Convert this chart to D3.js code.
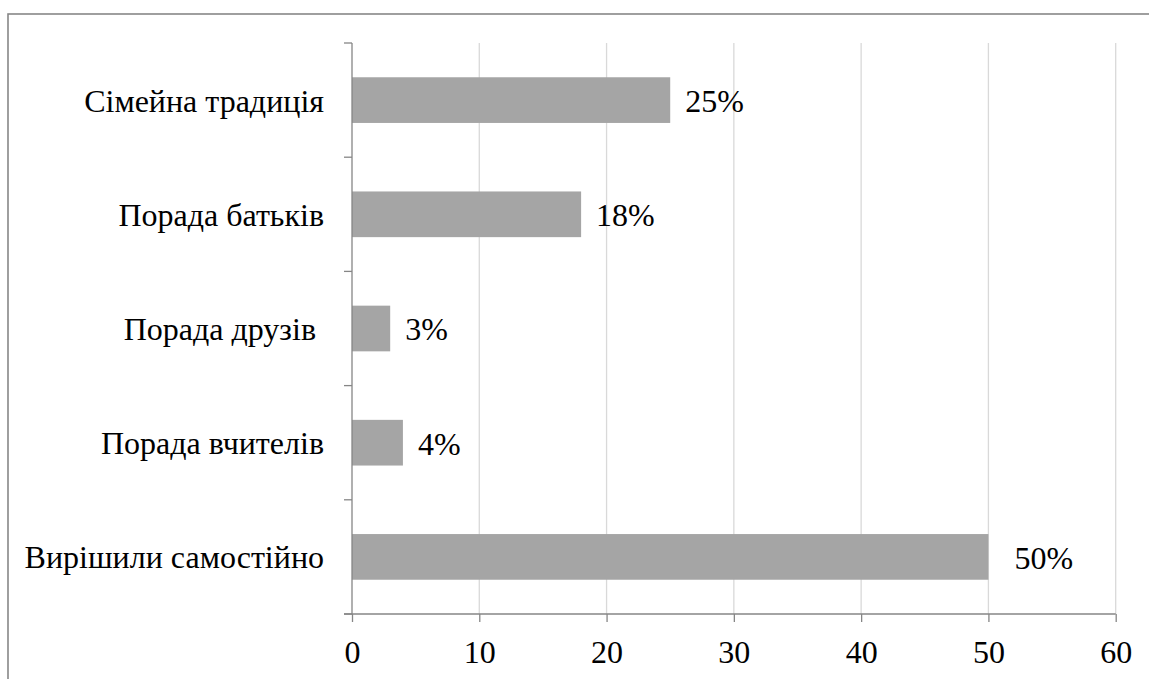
<!DOCTYPE html>
<html><head><meta charset="utf-8">
<script src="https://cdn.jsdelivr.net/npm/d3@7"></script>
<style>body{margin:0;background:#fff}svg{display:block}
svg text{font-family:"Liberation Serif","Tinos","Times New Roman","DejaVu Serif",serif;}</style>
</head><body>
<script>
const categories = ["Сімейна традиція","Порада батьків","Порада друзів ","Порада вчителів","Вирішили самостійно"];
const values = [25, 18, 3, 4, 50];
const valueLabels = ["25%","18%","3%","4%","50%"];
const xTicks = [0,10,20,30,40,50,60];

(function(){
const W = 1149, H = 679;
const svg = d3.select("body").append("svg").attr("width", W).attr("height", H);
const fs = 32;

// outer frame
svg.append("rect").attr("x",8).attr("y",14).attr("width",1160).attr("height",700)
  .attr("fill","none").attr("stroke","#878787").attr("stroke-width",1.6);

const pl = 352, pr = 1115.7, pt = 43, pb = 614;
const x = d3.scaleLinear().domain([0,60]).range([pl,pr]);
const y = d3.scaleBand().domain(categories).range([pt,pb]).paddingInner(0.6).paddingOuter(0.3);

// gridlines
svg.append("g").selectAll("line").data(xTicks.filter(d=>d>0)).join("line")
  .attr("x1",d=>x(d)).attr("x2",d=>x(d)).attr("y1",pt).attr("y2",pb)
  .attr("stroke","#d9d9d9").attr("stroke-width",1.3);

// bars
svg.append("g").selectAll("rect").data(values).join("rect")
  .attr("x",x(0)).attr("y",(d,i)=>y(categories[i]))
  .attr("width",d=>x(d)-x(0)).attr("height",y.bandwidth())
  .attr("fill","#a5a5a5");

// y axis line + boundary ticks
const band = (pb-pt)/categories.length;
const gy = svg.append("g");
gy.append("line").attr("x1",pl).attr("x2",pl).attr("y1",pt).attr("y2",pb)
  .attr("stroke","#868686").attr("stroke-width",1.3);
gy.selectAll("line.t").data(d3.range(categories.length+1)).join("line").attr("class","t")
  .attr("x1",pl-8).attr("x2",pl).attr("y1",i=>pt+i*band).attr("y2",i=>pt+i*band)
  .attr("stroke","#868686").attr("stroke-width",1.3);
gy.selectAll("text").data(categories).join("text")
  .attr("x",pl-28).attr("y",d=>y(d)+y.bandwidth()/2).attr("dy","0.36em")
  .attr("text-anchor","end").attr("font-size",fs).attr("fill","#000")
  .style("white-space","pre")
  .text(d=>d);

// x axis
const xAxis = d3.axisBottom(x).tickValues(xTicks).tickSize(8).tickPadding(18);
const gx = svg.append("g").attr("transform",`translate(0,${pb})`).call(xAxis);
gx.attr("font-family",null).attr("font-size",null);
gx.select(".domain").attr("d",`M${pl-8},0H${pr}`).attr("stroke","#868686").attr("stroke-width",1.3);
gx.selectAll(".tick line").attr("stroke","#868686").attr("stroke-width",1.3);
gx.selectAll(".tick text").attr("font-size",fs).attr("fill","#000");

// value labels
const gap = i => (i === values.length - 1 ? 26 : 15);
svg.append("g").selectAll("text").data(values).join("text")
  .attr("x",(d,i)=>x(d)+gap(i)).attr("y",(d,i)=>y(categories[i])+y.bandwidth()/2).attr("dy","0.37em")
  .attr("font-size",fs).attr("fill","#000")
  .text((d,i)=>valueLabels[i]);
})();
</script>
</body></html>
